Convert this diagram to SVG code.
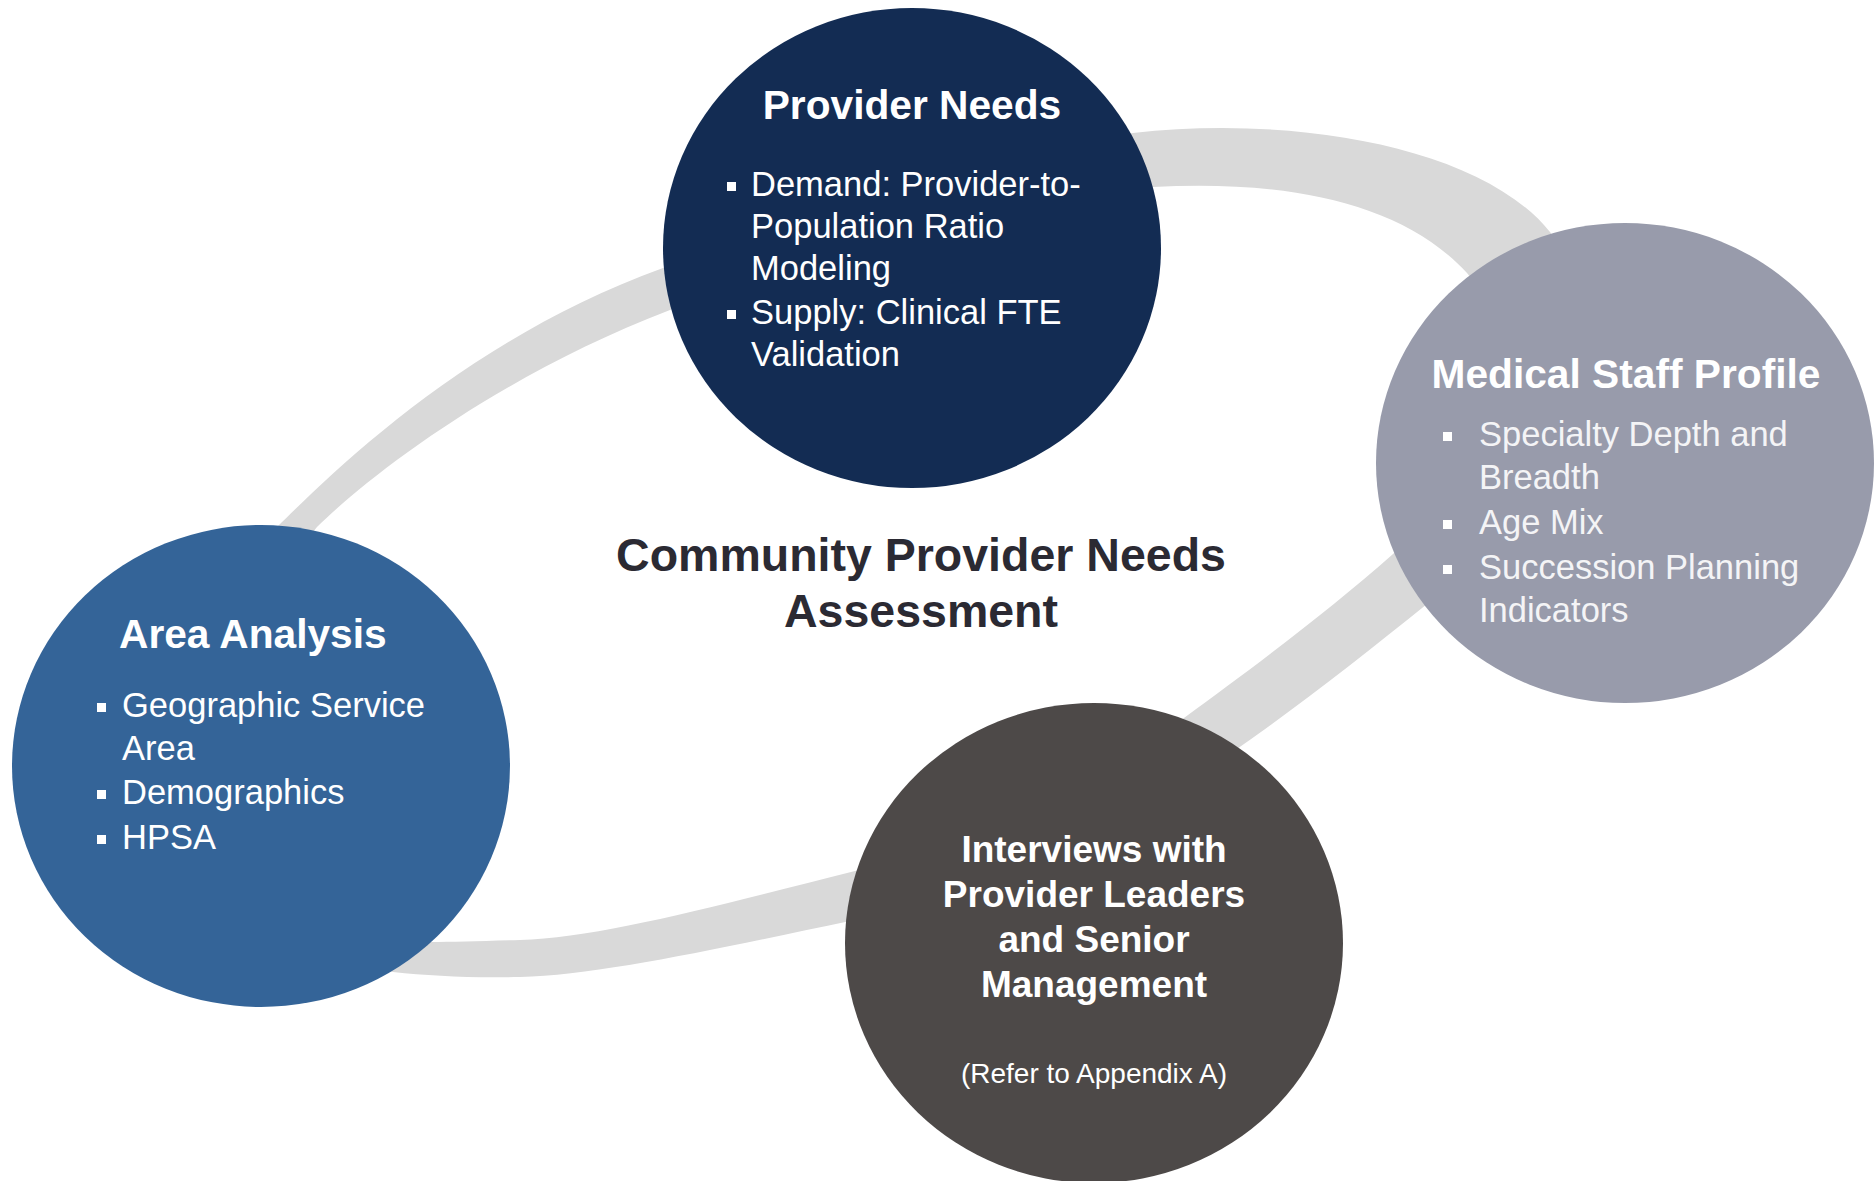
<svg xmlns="http://www.w3.org/2000/svg" width="1875" height="1181" viewBox="0 0 1875 1181">
  <style>
    text { font-family: "Liberation Sans", Arial, sans-serif; }
    .title { font-weight: bold; font-size: 40.7px; fill: #ffffff; }
    .item { font-size: 34.5px; fill: #ffffff; }
    .item-soft { font-size: 34.5px; fill: #f4f4f6; }
    .bullet { fill: #ffffff; }
    .center { font-weight: bold; font-size: 46.5px; fill: #2b2a33; }
    .iv { font-weight: bold; font-size: 37px; fill: #ffffff; }
    .note { font-size: 28px; fill: #ffffff; }
  </style>

  <rect width="1875" height="1181" fill="#ffffff"/>

  <!-- grey loop linking the four components -->
  <g id="connectors">
    <path fill="#d9d9d9" fill-rule="evenodd" d="
      M 277,527 C 340,465 470,338 663,268 C 783,224 983,150 1133,133
      C 1290,115 1480,145 1550,232 C 1600,294 1497,550 1427,604
      C 1370,650 1300,705 1244,744 C 1144,814 950,904 850,921
      C 720,948 600,975 520,977 C 470,978 430,976 393,972
      C 333,964 227,576 277,527 Z
      M 317,527 C 370,475 500,375 670,310 C 800,260 1023,194 1153,187
      C 1280,180 1400,200 1467,273 C 1507,317 1453,507 1393,554
      C 1330,610 1250,670 1184,718 C 1104,776 945,853 855,871
      C 720,905 600,938 520,940 C 480,941 455,942 430,942
      C 380,942 272,571 317,527 Z"/>
  </g>

  <!-- centre heading -->
  <g id="assessment-title">
    <text class="center" x="921" y="571" text-anchor="middle">Community Provider Needs</text>
    <text class="center" x="921" y="627" text-anchor="middle">Assessment</text>
  </g>

  <g id="provider-needs">
    <ellipse cx="912" cy="248" rx="249" ry="240" fill="#132c53"/>
    <text class="title" x="912" y="119" text-anchor="middle">Provider Needs</text>
    <rect class="bullet" x="727" y="182" width="9" height="9"/>
    <text class="item" x="751" y="196">Demand: Provider-to-</text>
    <text class="item" x="751" y="238">Population Ratio</text>
    <text class="item" x="751" y="280">Modeling</text>
    <rect class="bullet" x="727" y="310" width="9" height="9"/>
    <text class="item" x="751" y="324">Supply: Clinical FTE</text>
    <text class="item" x="751" y="366">Validation</text>
  </g>

  <g id="medical-staff-profile">
    <ellipse cx="1625" cy="463" rx="249" ry="240" fill="#989bab"/>
    <text class="title" x="1626" y="388" text-anchor="middle">Medical Staff Profile</text>
    <rect class="bullet" x="1443" y="432" width="9" height="9" fill="#f4f4f6"/>
    <text class="item-soft" x="1479" y="446">Specialty Depth and</text>
    <text class="item-soft" x="1479" y="489">Breadth</text>
    <rect class="bullet" x="1443" y="520" width="9" height="9" fill="#f4f4f6"/>
    <text class="item-soft" x="1479" y="534">Age Mix</text>
    <rect class="bullet" x="1443" y="565" width="9" height="9" fill="#f4f4f6"/>
    <text class="item-soft" x="1479" y="579">Succession Planning</text>
    <text class="item-soft" x="1479" y="622">Indicators</text>
  </g>

  <g id="area-analysis">
    <ellipse cx="261" cy="766" rx="249" ry="241" fill="#346498"/>
    <text class="title" x="119" y="648">Area Analysis</text>
    <rect class="bullet" x="97" y="703" width="9" height="9"/>
    <text class="item" x="122" y="717">Geographic Service</text>
    <text class="item" x="122" y="760">Area</text>
    <rect class="bullet" x="97" y="790" width="9" height="9"/>
    <text class="item" x="122" y="804">Demographics</text>
    <rect class="bullet" x="97" y="835" width="9" height="9"/>
    <text class="item" x="122" y="849">HPSA</text>
  </g>

  <g id="interviews">
    <ellipse cx="1094" cy="943" rx="249" ry="240" fill="#4d4948"/>
    <text class="iv" x="1094" y="862" text-anchor="middle">Interviews with</text>
    <text class="iv" x="1094" y="907" text-anchor="middle">Provider Leaders</text>
    <text class="iv" x="1094" y="952" text-anchor="middle">and Senior</text>
    <text class="iv" x="1094" y="997" text-anchor="middle">Management</text>
    <text class="note" x="1094" y="1083" text-anchor="middle">(Refer to Appendix A)</text>
  </g>
</svg>
